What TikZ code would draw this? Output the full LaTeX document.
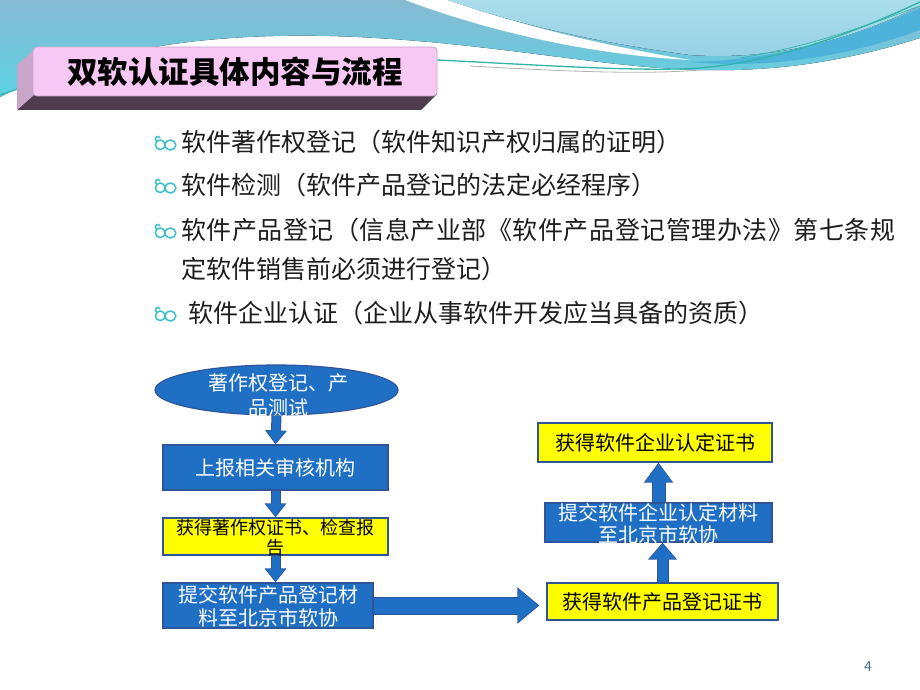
\documentclass[tikz,border=0pt]{standalone}
\usepackage{fontspec}
\usetikzlibrary{arrows.meta,shapes.geometric}
\newfontfamily\cjk{Noto Sans CJK SC}
\definecolor{boxblue}{HTML}{1F6FC5}
\definecolor{boxedge}{HTML}{2F5597}
\definecolor{yel}{HTML}{FFFF00}
\definecolor{bul}{HTML}{3CC0C8}
\definecolor{skya}{HTML}{86BAD2}
\definecolor{skyb}{HTML}{5CD2E4}
\definecolor{skyc}{HTML}{A9DDEA}
\definecolor{skyd}{HTML}{96CFE6}
\definecolor{band}{HTML}{4DB3DA}
\definecolor{tealline}{HTML}{2FB5A8}
\definecolor{pinkf}{HTML}{F8C8F4}
\definecolor{pinkl}{HTML}{C9A6C9}
\definecolor{pinkb}{HTML}{4F3D4F}
\definecolor{bodytext}{HTML}{1E1E1E}
\definecolor{pagenum}{HTML}{4A7090}
\newcommand\blockarrow[5]{%
  \pgfmathsetmacro\arrowos{#3+2}\pgfmathsetmacro\arrowow{#4+3}\pgfmathsetmacro\arrowol{#5+2}%
  \draw[boxedge, line width=\arrowos pt, -{Triangle[width=\arrowow pt,length=\arrowol pt]}] #1 -- #2;
  \draw[boxblue, line width=#3pt, -{Triangle[width=#4pt,length=#5pt]}, shorten >=1.3pt] #1 -- #2;}
\newcommand\gp{\hfill}
\tikzset{
  bluebox/.style={draw=boxedge, fill=boxblue, line width=1.2pt, inner sep=0pt, text=white},
  yellowbox/.style={draw=boxedge, fill=yel, line width=1.2pt, inner sep=0pt, text=black},
  ftxt/.style={font=\cjk\fontsize{20}{23}\selectfont, align=center, inner sep=0pt},
  body/.style={font=\cjk\fontsize{25}{30}\selectfont, text=bodytext, inner sep=0pt, anchor=west},
  curlbullet/.pic={
    \draw[bul, line width=1.5pt] (-4.8,0.8) circle[radius=4.8];
    \draw[bul, line width=1.5pt] (5.3,1.0) circle[x radius=5.5, y radius=5];
    \draw[bul, line width=1.5pt] (-8.5,-2.5) .. controls (-11.5,-6.5) and (-7,-9.5) .. (-4.8,-6);
  }
}
\begin{document}
\begin{tikzpicture}[x=1pt,y=-1pt]
\useasboundingbox (0,0) rectangle (920,690);
\fill[white] (0,0) rectangle (920,690);
% background waves
\fill[top color=skya, bottom color=skyb] (0,0) -- (920,0) -- (920,38) .. controls (850,60) and (780,72) .. (700,70) .. controls (600,68) and (480,40) .. (330,36) .. controls (200,33) and (90,50) .. (0,97) -- cycle;
\fill[top color=skyc, bottom color=skyd] (447,0) .. controls (520,25) and (600,43) .. (690,55) .. controls (790,62) and (870,30) .. (920,6) -- (920,0) -- cycle;
\fill[white] (405,0) .. controls (480,28) and (580,54) .. (690,60) .. controls (600,45) and (520,25) .. (447,0) -- cycle;
\fill[band] (690,62) .. controls (790,60) and (870,30) .. (920,8) -- (920,30) .. controls (860,52) and (780,70) .. (690,62) -- cycle;
\draw[tealline, line width=1.3pt] (437,60) .. controls (540,65) and (640,72) .. (700,68) .. controls (790,60) and (870,25) .. (920,2);
\draw[gray!60, line width=0.8pt] (470,66) .. controls (560,71) and (640,75) .. (700,70);
\draw[tealline, line width=0.7pt] (740,58) .. controls (820,45) and (880,20) .. (920,6);
\draw[tealline, line width=1.2pt] (0,95) -- (18,89);
% title box
\fill[pinkb] (33,94) -- (437,94) -- (421,110) -- (17,110) -- cycle;
\fill[pinkl] (34,50) -- (34,95) -- (17,110) -- (17,65) -- cycle;
\node[fill=pinkf, draw=pinkl, line width=0.8pt, rounded corners=4pt, minimum width=404pt, minimum height=49pt, inner sep=0pt, font=\cjk\bfseries\fontsize{30.5}{30.5}\selectfont] (title) at (235,71.5) {双软认证具体内容与流程};
% bullets and body text
\pic at (165,144) {curlbullet};
\pic at (165,187) {curlbullet};
\pic at (165,232) {curlbullet};
\pic at (165,315) {curlbullet};
\node[body] (t1) at (181,142) {软件著作权登记（软件知识产权归属的证明）};
\node[body] (t2) at (181,185) {软件检测（软件产品登记的法定必经程序）};
\node[body] (t3) at (181,230) {\makebox[714pt][s]{软\gp 件\gp 产\gp 品\gp 登\gp 记\gp （\gp 信\gp 息\gp 产\gp 业\gp 部\gp 《\gp 软\gp 件\gp 产\gp 品\gp 登\gp 记\gp 管\gp 理\gp 办\gp 法\gp 》\gp 第\gp 七\gp 条\gp 规}};
\node[body] (t3b) at (181,269) {定软件销售前必须进行登记）};
\node[body] (t4) at (188,313) {软件企业认证（企业从事软件开发应当具备的资质）};
% flowchart
\node[ellipse, bluebox, minimum width=243pt, minimum height=50pt] (e) at (276.5,390) {};
\node[ftxt, text=white, font=\cjk\fontsize{20}{25}\selectfont] (et) at (278,395) {著作权登记、产\\品测试};
\node[bluebox, ftxt, minimum width=225pt, minimum height=45pt] (b2) at (275.5,467.5) {上报相关审核机构};
\node[yellowbox, minimum width=225pt, minimum height=37pt] (b3) at (275.5,536.5) {};
\node[ftxt, font=\cjk\fontsize{18}{20}\selectfont] (b3t) at (275.5,538) {获得著作权证书、检查报\\告};
\node[bluebox, minimum width=210pt, minimum height=45pt] (b4) at (268,605.5) {};
\node[ftxt, text=white] (b4t) at (268,606.5) {提交软件产品登记材\\料至北京市软协};
\node[yellowbox, ftxt, minimum width=231pt, minimum height=37pt] (b5) at (662.5,601.5) {获得软件产品登记证书};
\node[bluebox, minimum width=227pt, minimum height=39pt] (b6) at (658.5,522.5) {};
\node[ftxt, text=white, font=\cjk\fontsize{20}{22}\selectfont] (b6t) at (658.5,524) {提交软件企业认定材料\\至北京市软协};
\node[yellowbox, ftxt, minimum width=234pt, minimum height=39pt] (b7) at (655,442.5) {获得软件企业认定证书};
% arrows
\blockarrow{(e.south)}{(b2.north)}{8}{18}{12}
\blockarrow{(b2.south)}{(b3.north)}{8}{18}{12}
\blockarrow{(b3.south)}{(b3.south |- b4.north)}{8}{18}{12}
\blockarrow{(b4.east)}{([xshift=-7pt]b4.east -| b5.west)}{16}{32}{20}
\blockarrow{(b5.north)}{(b5.north |- b6.south)}{10}{25}{15}
\blockarrow{(b6.north)}{(b6.north |- b7.south)}{12}{25}{18}
\node[font=\cjk\fontsize{14}{14}\selectfont, text=pagenum] (pn) at (868,667) {4};
\end{tikzpicture}
\end{document}
